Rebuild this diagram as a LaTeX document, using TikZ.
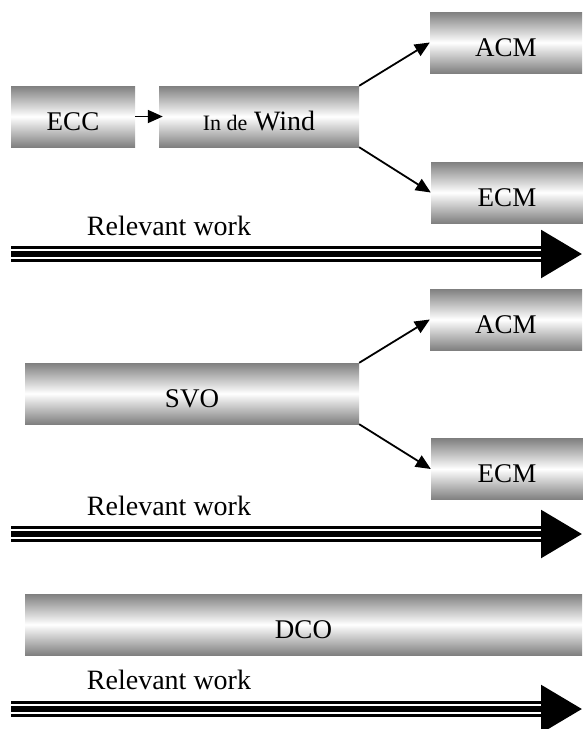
\documentclass[tikz,border=0pt]{standalone}
\usepackage{fontspec}
\setmainfont{Liberation Serif}
\usepackage{tikz}
\usetikzlibrary{
  positioning,
  arrows.meta
}

\tikzset{
  tube/.style={rectangle, inner sep=0pt, minimum height=61pt,
    top color=gray, bottom color=gray, middle color=white,
    text height=27pt, text depth=0pt, font=\fontsize{27}{30}\selectfont},
  conn/.style={line width=1.8pt, -{Triangle[length=15pt,width=13pt]}},
  worktext/.style={anchor=base, font=\fontsize{28}{32}\selectfont},
  workmid/.style={line width=6pt, -{Triangle[length=41pt,width=47pt]}},
  workside/.style={line width=2.7pt},
}

\begin{document}
\begin{tikzpicture}[x=1pt,y=1pt]

	\useasboundingbox (0,0) rectangle (582,-729);

	% first row
	\node[tube, minimum width=124pt] (ecc) at (73,-116.5) {ECC};
	\node[tube, minimum width=200pt] (wind) at (259,-116.5)
		{{\fontsize{22}{26}\selectfont In de} {\fontsize{28}{32}\selectfont Wind}};
	\node[tube, minimum width=152pt] (acm1) at (506,-42.5) {ACM};
	\node[tube, minimum width=152pt] (ecm1) at (507,-192.5) {ECM};

	\draw[conn, shorten >=-4pt] (ecc.east) -- (wind.west);
	\draw[conn] (wind.north east) -- (acm1.west);
	\draw[conn] (wind.south east) -- (ecm1.west);

	\node[worktext] (rw1) at (169,-235) {Relevant work};
	\coordinate (w1a) at (11,-254);
	\coordinate (w1b) at (545,-254);
	\coordinate (w1t) at (582,-254);
	\draw[workmid] (w1a) -- (w1t);
	\draw[workside] ([yshift=6.6pt]w1a) -- ([yshift=6.6pt]w1b);
	\draw[workside] ([yshift=-6.6pt]w1a) -- ([yshift=-6.6pt]w1b);

	% second row
	\node[tube, minimum width=334pt] (svo) at (192,-393.5) {SVO};
	\node[tube, minimum width=152pt] (acm2) at (506,-319.5) {ACM};
	\node[tube, minimum width=152pt] (ecm2) at (507,-469) {ECM};

	\draw[conn] (svo.north east) -- (acm2.west);
	\draw[conn] (svo.south east) -- (ecm2.west);

	\node[worktext] (rw2) at (169,-515) {Relevant work};
	\coordinate (w2a) at (11,-534);
	\coordinate (w2b) at (545,-534);
	\coordinate (w2t) at (582,-534);
	\draw[workmid] (w2a) -- (w2t);
	\draw[workside] ([yshift=6.6pt]w2a) -- ([yshift=6.6pt]w2b);
	\draw[workside] ([yshift=-6.6pt]w2a) -- ([yshift=-6.6pt]w2b);

	% third row
	\node[tube, minimum width=557pt] (dco) at (303.5,-624.5) {DCO};

	\node[worktext] (rw3) at (169,-689) {Relevant work};
	\coordinate (w3a) at (11,-709);
	\coordinate (w3b) at (545,-709);
	\coordinate (w3t) at (582,-709);
	\draw[workmid] (w3a) -- (w3t);
	\draw[workside] ([yshift=6.6pt]w3a) -- ([yshift=6.6pt]w3b);
	\draw[workside] ([yshift=-6.6pt]w3a) -- ([yshift=-6.6pt]w3b);

\end{tikzpicture}
\end{document}
